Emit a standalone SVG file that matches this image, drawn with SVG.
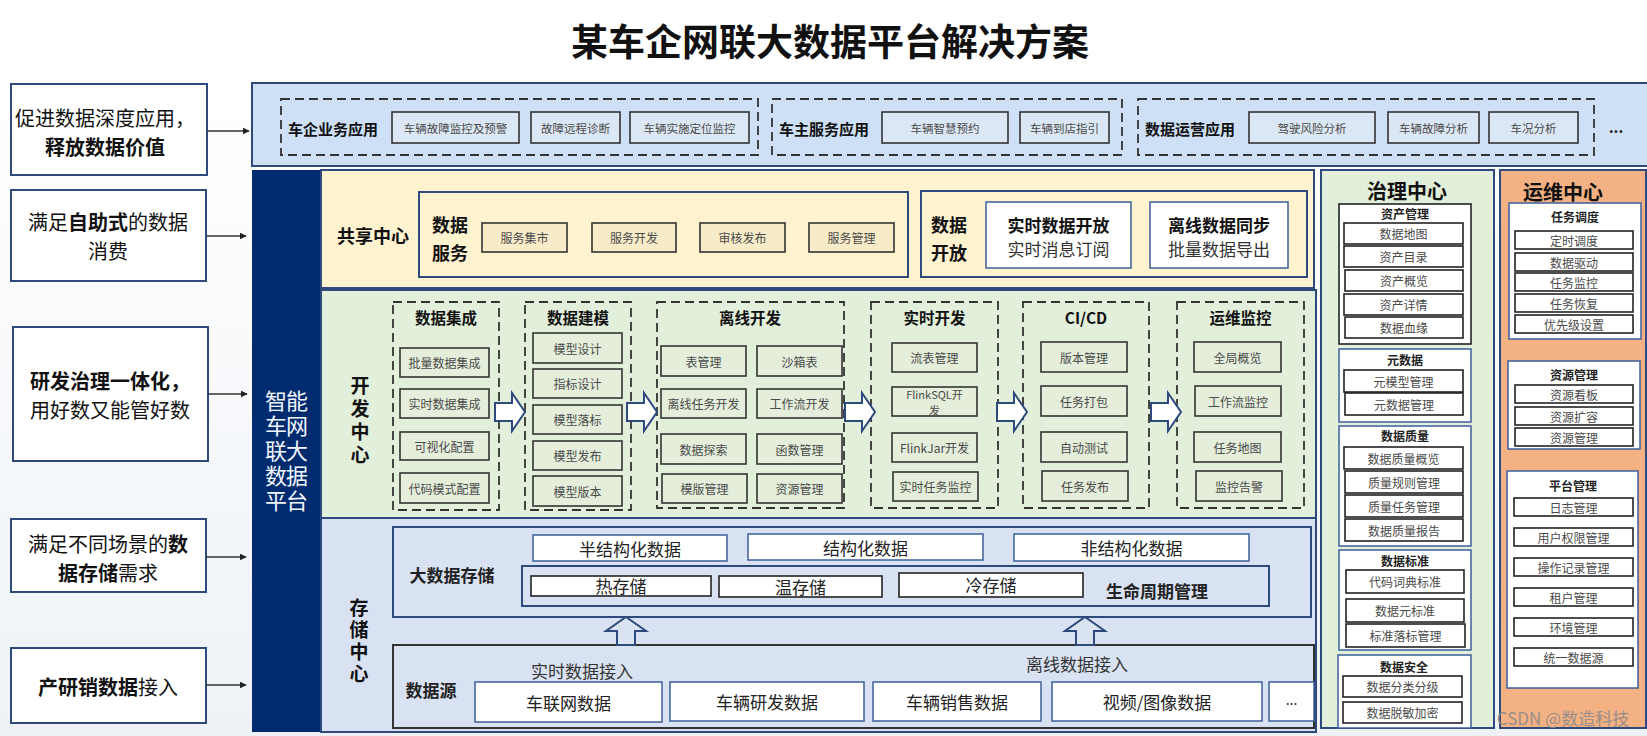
<svg xmlns="http://www.w3.org/2000/svg" width="1647" height="736" viewBox="0 0 1647 736">
<style>
text{font-family:'Noto Sans CJK SC','Liberation Sans',sans-serif;text-anchor:middle;dominant-baseline:central;fill:#111}
.b{font-weight:bold}
.sm{font-size:12px;fill:#4a4a4a}
.xs{font-size:11.5px;fill:#4a4a4a}
.md{font-size:17px;fill:#222}
.lp{font-size:20px}
.vt{writing-mode:vertical-rl;text-orientation:upright}
.frame{stroke:#2e4a7d;stroke-width:2}
.wb{fill:#fff;stroke:#3d5f9c;stroke-width:1.5}
.kb{fill:#fff;stroke:#222;stroke-width:1.6}
.dash{fill:none;stroke:#333;stroke-width:1.8;stroke-dasharray:9 5}
.gi{fill:#e4eedb;stroke:#333;stroke-width:1.6}
.yi{fill:#f7ebc8;stroke:#333;stroke-width:1.6}
.ai{fill:#dbe7f4;stroke:#333;stroke-width:1.6}
.conn{stroke:#333;stroke-width:1.3;fill:none}
</style>
<defs>
<linearGradient id="bg" x1="0" y1="0" x2="0" y2="1">
<stop offset="0" stop-color="#ffffff"/>
<stop offset="0.12" stop-color="#ffffff"/>
<stop offset="1" stop-color="#eef2f7"/>
</linearGradient>
<marker id="ah" viewBox="0 0 10 10" refX="9" refY="5" markerWidth="7" markerHeight="7" orient="auto" markerUnits="userSpaceOnUse">
<path d="M0,0 L10,5 L0,10 Z" fill="#222"/>
</marker>
<path id="ra" d="M0,-9 H17 V-19 L30,0 L17,19 V9 H0 Z" fill="#fff" stroke="#2e4a7d" stroke-width="2"/>
<path id="ua" d="M-9,0 V-14 H-20 L0,-28 L20,-14 H9 V0 Z" fill="#dae3f2" stroke="#2e4a7d" stroke-width="2"/>
</defs>
<rect x="0" y="0" width="1647" height="736" fill="url(#bg)"/>

<text x="830" y="40" class="b" style="font-size:37px">某车企网联大数据平台解决方案</text>

<!-- left panels -->
<g id="left1">
<rect x="11" y="84" width="196" height="91" fill="#fff" stroke="#2e4a7d" stroke-width="2"/>
<text x="105" y="117" class="lp">促进数据深度应用，</text>
<text x="105" y="146" class="lp b">释放数据价值</text>
</g>
<g id="left2">
<rect x="11" y="190" width="195" height="91" fill="#fff" stroke="#2e4a7d" stroke-width="2"/>
<text x="108" y="221" class="lp">满足<tspan class="b">自助式</tspan>的数据</text>
<text x="108" y="250" class="lp">消费</text>
</g>
<g id="left3">
<rect x="13" y="327" width="195" height="134" fill="#fff" stroke="#2e4a7d" stroke-width="2"/>
<text x="110" y="380" class="lp b">研发治理一体化，</text>
<text x="110" y="409" class="lp">用好数又能管好数</text>
</g>
<g id="left4">
<rect x="11" y="519" width="195" height="73" fill="#fff" stroke="#2e4a7d" stroke-width="2"/>
<text x="108" y="543" class="lp">满足不同场景的<tspan class="b">数</tspan></text>
<text x="108" y="572" class="lp"><tspan class="b">据存储</tspan>需求</text>
</g>
<g id="left5">
<rect x="11" y="648" width="195" height="75" fill="#fff" stroke="#2e4a7d" stroke-width="2"/>
<text x="108" y="686" class="lp"><tspan class="b">产研销数据</tspan>接入</text>
</g>

<!-- top application band -->
<g id="apps">
<rect x="252" y="83" width="1400" height="83" fill="#cde0f6" class="frame"/>
<rect x="281" y="99" width="477" height="56" class="dash"/>
<rect x="772" y="99" width="350" height="56" class="dash"/>
<rect x="1138" y="99" width="456" height="56" class="dash"/>
<text x="333" y="128" class="b" style="font-size:15px">车企业务应用</text>
<rect x="392" y="112" width="127" height="31" class="ai"/><text x="455.5" y="127.5" class="xs">车辆故障监控及预警</text>
<rect x="531" y="112" width="89" height="31" class="ai"/><text x="575.5" y="127.5" class="xs">故障远程诊断</text>
<rect x="630" y="112" width="119" height="31" class="ai"/><text x="689.5" y="127.5" class="xs">车辆实施定位监控</text>
<text x="824" y="128" class="b" style="font-size:15px">车主服务应用</text>
<rect x="882" y="112" width="126" height="31" class="ai"/><text x="945" y="127.5" class="xs">车辆智慧预约</text>
<rect x="1020" y="112" width="89" height="31" class="ai"/><text x="1064.5" y="127.5" class="xs">车辆到店指引</text>
<text x="1190" y="128" class="b" style="font-size:15px">数据运营应用</text>
<rect x="1249" y="112" width="126" height="31" class="ai"/><text x="1312" y="127.5" class="xs">驾驶风险分析</text>
<rect x="1388" y="112" width="91" height="31" class="ai"/><text x="1433.5" y="127.5" class="xs">车辆故障分析</text>
<rect x="1489" y="112" width="89" height="31" class="ai"/><text x="1533.5" y="127.5" class="xs">车况分析</text>
<text x="1616" y="126" class="b" style="font-size:15px">...</text>
</g>

<!-- platform bar -->
<g id="platform">
<rect x="252" y="170" width="69" height="562" fill="#002b6e"/>
<text x="276" y="452" class="vt" style="font-size:22px;letter-spacing:3px;fill:#f2f6ff">智车联数平</text>
<text x="297" y="452" class="vt" style="font-size:22px;letter-spacing:3px;fill:#f2f6ff">能网大据台</text>
</g>

<!-- share center -->
<g id="share">
<rect x="321" y="170" width="993" height="118" fill="#fff2cf" class="frame"/>
<text x="373" y="235" class="b" style="font-size:18px">共享中心</text>
<rect x="419" y="192" width="489" height="85" fill="#fff2cf" class="frame"/>
<text x="450" y="224" class="b" style="font-size:18px">数据</text>
<text x="450" y="252" class="b" style="font-size:18px">服务</text>
<rect x="482" y="223" width="85" height="29" class="yi"/><text x="524.5" y="237.5" class="sm">服务集市</text>
<rect x="592" y="223" width="84" height="29" class="yi"/><text x="634" y="237.5" class="sm">服务开发</text>
<rect x="700" y="223" width="85" height="29" class="yi"/><text x="742.5" y="237.5" class="sm">审核发布</text>
<rect x="809" y="223" width="85" height="29" class="yi"/><text x="851.5" y="237.5" class="sm">服务管理</text>
<rect x="921" y="191" width="386" height="86" fill="#fff2cf" class="frame"/>
<text x="949" y="224" class="b" style="font-size:18px">数据</text>
<text x="949" y="252" class="b" style="font-size:18px">开放</text>
<rect x="986" y="202" width="145" height="66" class="wb"/>
<text x="1058.5" y="224" class="b" style="font-size:17px">实时数据开放</text>
<text x="1058.5" y="248" style="font-size:17px;fill:#333">实时消息订阅</text>
<rect x="1150" y="202" width="138" height="66" class="wb"/>
<text x="1219" y="224" class="b" style="font-size:17px">离线数据同步</text>
<text x="1219" y="248" style="font-size:17px;fill:#333">批量数据导出</text>
</g>

<!-- dev center -->
<g id="dev">
<rect x="321" y="290" width="995" height="228" fill="#e2efda" class="frame"/>
<text x="360" y="422" class="vt b" style="font-size:19px;letter-spacing:4px">开发中心</text>
</g>
<g id="col-integrate">
<rect x="393" y="302" width="106" height="208" class="dash"/>
<text x="446" y="317" class="b" style="font-size:15.5px">数据集成</text>
<rect x="400" y="348" width="89" height="29" class="gi"/><text x="444.5" y="362.5" class="sm">批量数据集成</text>
<rect x="400" y="389" width="89" height="29" class="gi"/><text x="444.5" y="403.5" class="sm">实时数据集成</text>
<rect x="400" y="432" width="89" height="28" class="gi"/><text x="444.5" y="446" class="sm">可视化配置</text>
<rect x="400" y="473" width="89" height="30" class="gi"/><text x="444.5" y="488" class="sm">代码模式配置</text>
</g>
<g id="col-model">
<rect x="525" y="302" width="106" height="208" class="dash"/>
<text x="578" y="317" class="b" style="font-size:15.5px">数据建模</text>
<rect x="533" y="333" width="89" height="30" class="gi"/><text x="577.5" y="348" class="sm">模型设计</text>
<rect x="533" y="369" width="89" height="29" class="gi"/><text x="577.5" y="383.5" class="sm">指标设计</text>
<rect x="533" y="405" width="89" height="29" class="gi"/><text x="577.5" y="419.5" class="sm">模型落标</text>
<rect x="533" y="441" width="89" height="29" class="gi"/><text x="577.5" y="455.5" class="sm">模型发布</text>
<rect x="533" y="476" width="89" height="30" class="gi"/><text x="577.5" y="491" class="sm">模型版本</text>
</g>
<g id="col-offline">
<rect x="657" y="302" width="187" height="206" class="dash"/>
<text x="750" y="317" class="b" style="font-size:15.5px">离线开发</text>
<rect x="661" y="346" width="85" height="30" class="gi"/><text x="703.5" y="361" class="sm">表管理</text>
<rect x="757" y="346" width="85" height="30" class="gi"/><text x="799.5" y="361" class="sm">沙箱表</text>
<rect x="661" y="389" width="85" height="29" class="gi"/><text x="703.5" y="403.5" class="sm">离线任务开发</text>
<rect x="757" y="389" width="85" height="29" class="gi"/><text x="799.5" y="403.5" class="sm">工作流开发</text>
<rect x="661" y="434" width="85" height="30" class="gi"/><text x="703.5" y="449" class="sm">数据探索</text>
<rect x="757" y="434" width="85" height="30" class="gi"/><text x="799.5" y="449" class="sm">函数管理</text>
<rect x="662" y="474" width="85" height="29" class="gi"/><text x="704.5" y="488.5" class="sm">模版管理</text>
<rect x="757" y="474" width="85" height="29" class="gi"/><text x="799.5" y="488.5" class="sm">资源管理</text>
</g>
<g id="col-realtime">
<rect x="871" y="302" width="127" height="206" class="dash"/>
<text x="934.5" y="317" class="b" style="font-size:15.5px">实时开发</text>
<rect x="892" y="343" width="85" height="29" class="gi"/><text x="934.5" y="357.5" class="sm">流表管理</text>
<rect x="892" y="387" width="85" height="29" class="gi"/>
<text x="934.5" y="394" class="sm" style="font-size:11px">FlinkSQL开</text>
<text x="934.5" y="410" class="sm" style="font-size:11px">发</text>
<rect x="892" y="433" width="85" height="29" class="gi"/><text x="934.5" y="447.5" class="sm">FlinkJar开发</text>
<rect x="893" y="472" width="85" height="29" class="gi"/><text x="935.5" y="486.5" class="sm">实时任务监控</text>
</g>
<g id="col-cicd">
<rect x="1023" y="302" width="126" height="206" class="dash"/>
<text x="1086" y="317" class="b" style="font-size:15.5px">CI/CD</text>
<rect x="1041" y="342" width="86" height="30" class="gi"/><text x="1084" y="357" class="sm">版本管理</text>
<rect x="1041" y="386" width="86" height="30" class="gi"/><text x="1084" y="401" class="sm">任务打包</text>
<rect x="1041" y="432" width="86" height="30" class="gi"/><text x="1084" y="447" class="sm">自动测试</text>
<rect x="1042" y="471" width="86" height="30" class="gi"/><text x="1085" y="486" class="sm">任务发布</text>
</g>
<g id="col-ops">
<rect x="1177" y="302" width="127" height="206" class="dash"/>
<text x="1240.5" y="317" class="b" style="font-size:15.5px">运维监控</text>
<rect x="1194" y="342" width="87" height="30" class="gi"/><text x="1237.5" y="357" class="sm">全局概览</text>
<rect x="1195" y="386" width="86" height="30" class="gi"/><text x="1238" y="401" class="sm">工作流监控</text>
<rect x="1194" y="432" width="87" height="30" class="gi"/><text x="1237.5" y="447" class="sm">任务地图</text>
<rect x="1196" y="471" width="86" height="30" class="gi"/><text x="1239" y="486" class="sm">监控告警</text>
</g>

<!-- storage center -->
<g id="storage">
<rect x="321" y="518" width="995" height="214" fill="#d9e2f2" class="frame"/>
<text x="359" y="642" class="vt b" style="font-size:19px;letter-spacing:3px">存储中心</text>
</g>
<g id="bigdata">
<rect x="393" y="527" width="918" height="90" fill="#d9e2f2" class="frame"/>
<text x="452" y="574" class="b md">大数据存储</text>
<rect x="533" y="535" width="194" height="26" class="wb"/><text x="630" y="548" class="md">半结构化数据</text>
<rect x="748" y="534" width="235" height="26" class="wb"/><text x="865.5" y="547" class="md">结构化数据</text>
<rect x="1014" y="534" width="235" height="27" class="wb"/><text x="1131.5" y="547.5" class="md">非结构化数据</text>
<rect x="522" y="566" width="747" height="40" fill="#d9e2f2" class="frame"/>
<rect x="531" y="576" width="180" height="20" class="kb"/><text x="621" y="585" class="md">热存储</text>
<rect x="719" y="576" width="163" height="21" class="kb"/><text x="800.5" y="586" class="md">温存储</text>
<rect x="899" y="573" width="184" height="24" class="kb"/><text x="991" y="584" class="md">冷存储</text>
<text x="1157" y="590" class="b md">生命周期管理</text>
</g>
<g id="datasource">
<rect x="393" y="645" width="921" height="83" fill="#d9e2f2" stroke="#333" stroke-width="2"/>
<text x="431" y="689" class="b md">数据源</text>
<text x="582" y="670" class="md" style="fill:#333">实时数据接入</text>
<text x="1077" y="663" class="md" style="fill:#333">离线数据接入</text>
<rect x="475" y="682" width="187" height="40" class="wb"/><text x="568.5" y="702" class="md">车联网数据</text>
<rect x="670" y="682" width="194" height="39" class="wb"/><text x="767" y="701.5" class="md">车辆研发数据</text>
<rect x="873" y="682" width="168" height="39" class="wb"/><text x="957" y="701.5" class="md">车辆销售数据</text>
<rect x="1052" y="682" width="210" height="39" class="wb"/><text x="1157" y="701.5" class="md">视频/图像数据</text>
<rect x="1269" y="682" width="45" height="39" class="wb"/><text x="1291.5" y="699" style="font-size:14px;fill:#333">...</text>
</g>

<!-- governance center -->
<g id="governance">
<rect x="1321" y="170" width="173" height="558" fill="#e2efda" class="frame"/>
<text x="1407" y="190" class="b" style="font-size:20px">治理中心</text>
<rect x="1339" y="204" width="132" height="140" class="kb"/>
<text x="1405" y="213" class="b sm" style="fill:#222">资产管理</text>
<rect x="1344" y="223" width="119" height="21" class="kb"/><text x="1403.5" y="233.5" class="sm">数据地图</text>
<rect x="1344" y="246" width="119" height="21" class="kb"/><text x="1403.5" y="256.5" class="sm">资产目录</text>
<rect x="1345" y="270" width="118" height="21" class="kb"/><text x="1404" y="280.5" class="sm">资产概览</text>
<rect x="1344" y="294" width="119" height="21" class="kb"/><text x="1403.5" y="304.5" class="sm">资产详情</text>
<rect x="1345" y="317" width="118" height="21" class="kb"/><text x="1404" y="327.5" class="sm">数据血缘</text>
<rect x="1339" y="349" width="132" height="73" class="wb"/>
<text x="1405" y="359" class="b sm" style="fill:#222">元数据</text>
<rect x="1344" y="370" width="119" height="22" class="kb"/><text x="1403.5" y="381" class="sm">元模型管理</text>
<rect x="1345" y="393" width="118" height="22" class="kb"/><text x="1404" y="404" class="sm">元数据管理</text>
<rect x="1339" y="426" width="132" height="120" class="wb"/>
<text x="1405" y="435" class="b sm" style="fill:#222">数据质量</text>
<rect x="1344" y="447" width="119" height="22" class="kb"/><text x="1403.5" y="458" class="sm">数据质量概览</text>
<rect x="1345" y="471" width="118" height="22" class="kb"/><text x="1404" y="482" class="sm">质量规则管理</text>
<rect x="1345" y="495" width="118" height="22" class="kb"/><text x="1404" y="506" class="sm">质量任务管理</text>
<rect x="1345" y="519" width="118" height="22" class="kb"/><text x="1404" y="530" class="sm">数据质量报告</text>
<rect x="1339" y="550" width="132" height="100" class="wb"/>
<text x="1405" y="560" class="b sm" style="fill:#222">数据标准</text>
<rect x="1346" y="570" width="118" height="23" class="kb"/><text x="1405" y="581.5" class="sm">代码词典标准</text>
<rect x="1346" y="599" width="118" height="23" class="kb"/><text x="1405" y="610.5" class="sm">数据元标准</text>
<rect x="1346" y="624" width="119" height="23" class="kb"/><text x="1405.5" y="635.5" class="sm">标准落标管理</text>
<rect x="1338" y="655" width="133" height="73" class="wb"/>
<text x="1404" y="666" class="b sm" style="fill:#222">数据安全</text>
<rect x="1343" y="676" width="119" height="21" class="kb"/><text x="1402.5" y="686.5" class="sm">数据分类分级</text>
<rect x="1343" y="702" width="119" height="21" class="kb"/><text x="1402.5" y="712.5" class="sm">数据脱敏加密</text>
</g>

<!-- ops center -->
<g id="opscenter">
<rect x="1500" y="170" width="146" height="558" fill="#f4b183" class="frame"/>
<text x="1563" y="191" class="b" style="font-size:20px">运维中心</text>
<rect x="1509" y="203" width="132" height="136" class="wb"/>
<text x="1575" y="216" class="b sm" style="fill:#222">任务调度</text>
<rect x="1515" y="231" width="118" height="18" class="kb"/><text x="1574" y="240" class="sm">定时调度</text>
<rect x="1515" y="253" width="118" height="18" class="kb"/><text x="1574" y="262" class="sm">数据驱动</text>
<rect x="1515" y="273" width="118" height="18" class="kb"/><text x="1574" y="282" class="sm">任务监控</text>
<rect x="1515" y="294" width="118" height="18" class="kb"/><text x="1574" y="303" class="sm">任务恢复</text>
<rect x="1515" y="315" width="118" height="18" class="kb"/><text x="1574" y="324" class="sm">优先级设置</text>
<rect x="1508" y="361" width="132" height="88" class="wb"/>
<text x="1574" y="374" class="b sm" style="fill:#222">资源管理</text>
<rect x="1515" y="385" width="118" height="18" class="kb"/><text x="1574" y="394" class="sm">资源看板</text>
<rect x="1515" y="407" width="118" height="18" class="kb"/><text x="1574" y="416" class="sm">资源扩容</text>
<rect x="1515" y="428" width="118" height="18" class="kb"/><text x="1574" y="437" class="sm">资源管理</text>
<rect x="1507" y="471" width="131" height="217" class="wb"/>
<text x="1573" y="485" class="b sm" style="fill:#222">平台管理</text>
<rect x="1514" y="498" width="119" height="18" class="kb"/><text x="1573.5" y="507" class="sm">日志管理</text>
<rect x="1514" y="528" width="119" height="18" class="kb"/><text x="1573.5" y="537" class="sm">用户权限管理</text>
<rect x="1514" y="558" width="119" height="18" class="kb"/><text x="1573.5" y="567" class="sm">操作记录管理</text>
<rect x="1514" y="588" width="119" height="18" class="kb"/><text x="1573.5" y="597" class="sm">租户管理</text>
<rect x="1514" y="618" width="119" height="18" class="kb"/><text x="1573.5" y="627" class="sm">环境管理</text>
<rect x="1514" y="648" width="119" height="18" class="kb"/><text x="1573.5" y="657" class="sm">统一数据源</text>
</g>

<!-- connectors -->
<g id="connectors">
<line x1="207" y1="131" x2="249" y2="131" class="conn" marker-end="url(#ah)"/>
<line x1="206" y1="236" x2="246" y2="236" class="conn" marker-end="url(#ah)"/>
<line x1="208" y1="394" x2="247" y2="394" class="conn" marker-end="url(#ah)"/>
<line x1="206" y1="557" x2="246" y2="557" class="conn" marker-end="url(#ah)"/>
<line x1="206" y1="685" x2="246" y2="685" class="conn" marker-end="url(#ah)"/>
<use href="#ra" transform="translate(495,412)"/>
<use href="#ra" transform="translate(627,412)"/>
<use href="#ra" transform="translate(845,412)"/>
<use href="#ra" transform="translate(997,412)"/>
<use href="#ra" transform="translate(1151,412)"/>
<use href="#ua" transform="translate(626,645)"/>
<use href="#ua" transform="translate(1085,645)"/>
</g>

<text x="1563" y="717" style="font-size:17px;fill:#8a8a8a;opacity:0.85">CSDN @数造科技</text>
</svg>
